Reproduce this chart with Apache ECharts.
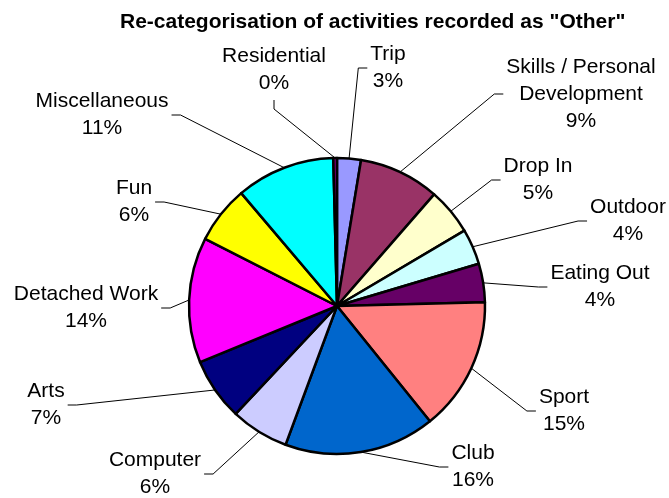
<!DOCTYPE html>
<html>
<head>
<meta charset="utf-8">
<script src="https://cdn.jsdelivr.net/npm/echarts@6/dist/echarts.min.js"></script>
<style>
html,body{margin:0;padding:0;background:#fff;}
#chart{width:669px;height:498px;}
</style>
</head>
<body>
<div id="chart"></div>
<script>
const categories = ['Trip', 'Skills / Personal\nDevelopment', 'Drop In', 'Outdoor', 'Eating Out', 'Sport', 'Club', 'Computer', 'Arts', 'Detached Work', 'Fun', 'Miscellaneous', 'Residential'];
const values = [2.6, 8.8, 5.1, 3.9, 4.2, 14.6, 16.45, 6.35, 6.8, 13.7, 6.3, 10.8, 0.4];
const colors = ['#9999FF', '#993366', '#FFFFCC', '#CCFFFF', '#660066', '#FF8080', '#0066CC', '#CCCCFF', '#000080', '#FF00FF', '#FFFF00', '#00FFFF', '#800080'];

// label layout (text block centres) and which side the leader line attaches to
const labelCenters = [[388, 68], [581, 94], [538, 180], [628, 221], [600, 287], [564, 411], [473, 467], [155, 474], [46, 405], [86, 308], [134, 202], [102, 115], [274, 70]];
const labelSides = ['left', 'left', 'left', 'left', 'left', 'left', 'left', 'right', 'right', 'right', 'right', 'right', 'bottom'];

const chart = echarts.init(document.getElementById('chart'), null, {renderer: 'canvas'});
const font = '"Liberation Sans", Arial, sans-serif';

chart.setOption({
  animation: false,
  backgroundColor: '#ffffff',
  title: {
    text: 'Re-categorisation of activities recorded as "Other"',
    left: 115,
    top: 7,
    textStyle: {fontFamily: font, fontSize: 21, fontWeight: 'bold', color: '#000'}
  },
  series: [{
    type: 'pie',
    center: [337, 306],
    radius: 148,
    startAngle: 90,
    clockwise: true,
    avoidLabelOverlap: false,
    minShowLabelAngle: 0,
    data: categories.map((c, i) => ({name: c, value: values[i], itemStyle: {color: colors[i]}})),
    itemStyle: {borderColor: '#000', borderWidth: 2.5},
    emphasis: {disabled: true},
    label: {
      show: true,
      position: 'outer',
      fontFamily: font,
      fontSize: 21,
      lineHeight: 27,
      color: '#000',
      align: 'center',
      formatter: function (p) { return categories[p.dataIndex] + '\n' + Math.round(values[p.dataIndex]) + '%'; }
    },
    labelLine: {show: true, length: 15, length2: 10, lineStyle: {color: '#000', width: 1}},
    labelLayout: function (p) {
      const i = p.dataIndex;
      const c = labelCenters[i], side = labelSides[i];
      const w = p.labelRect.width, h = p.labelRect.height;
      const gap = 3, stub = 9;
      let end, elbow;
      if (side === 'left') { end = [c[0] - w / 2 - gap, c[1]]; elbow = [end[0] - stub, end[1]]; }
      else if (side === 'right') { end = [c[0] + w / 2 + gap, c[1]]; elbow = [end[0] + stub, end[1]]; }
      else { end = [c[0], c[1] + h / 2 + gap]; elbow = [end[0], end[1] + stub]; }
      const out = {x: c[0], y: c[1], align: 'center', verticalAlign: 'middle', hideOverlap: false};
      if (p.labelLinePoints && p.labelLinePoints[0]) {
        out.labelLinePoints = [p.labelLinePoints[0], elbow, end];
      }
      return out;
    }
  }]
});
</script>
</body>
</html>
